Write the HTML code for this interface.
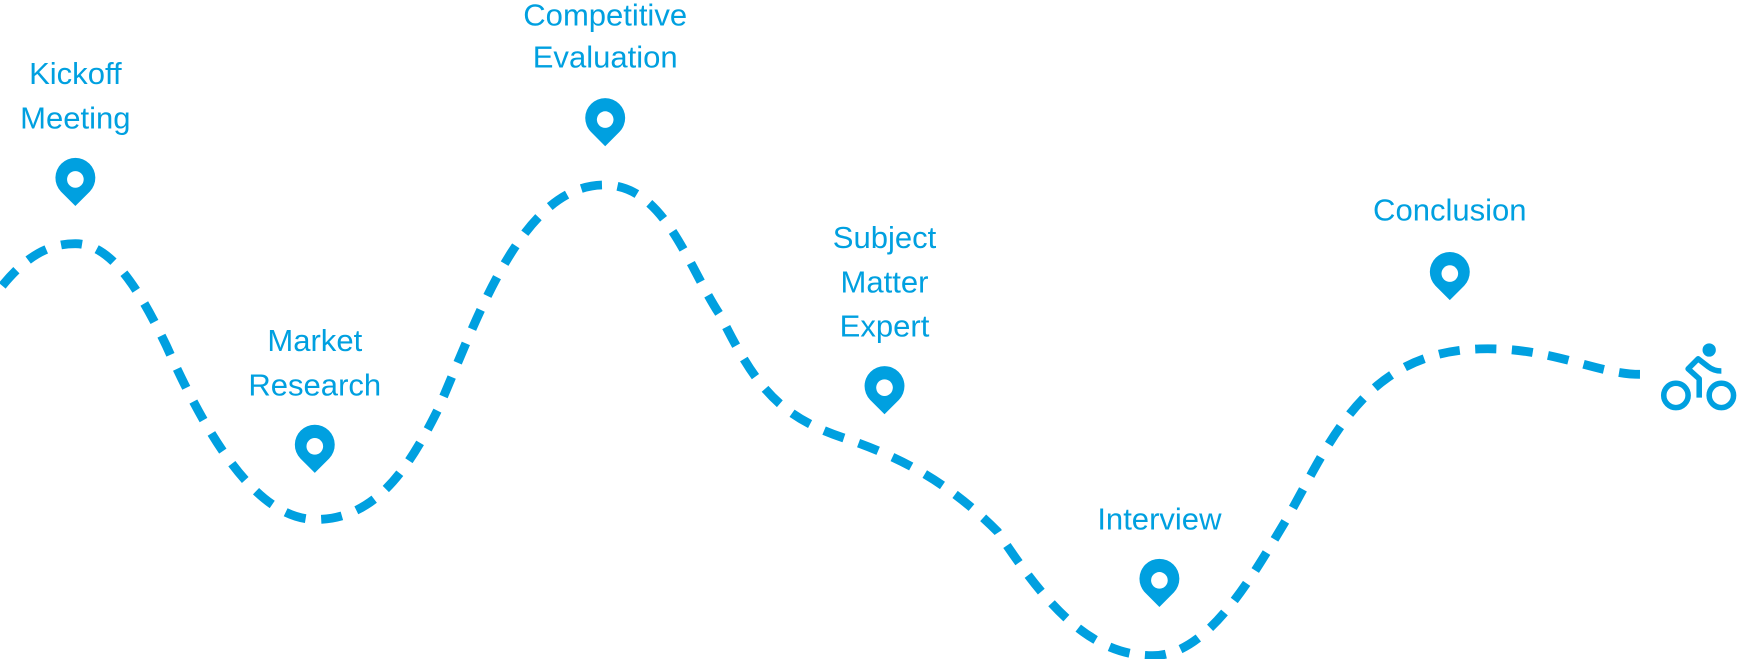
<!DOCTYPE html>
<html><head><meta charset="utf-8"><style>
html,body{margin:0;padding:0;background:#fff;width:1738px;height:659px;overflow:hidden}
svg{display:block}
text{font-family:"Liberation Sans",sans-serif;font-size:28px;fill:#00a0e0;text-anchor:middle}
</style></head><body>
<svg width="1738" height="659" viewBox="0 0 1568 595" preserveAspectRatio="none">
<defs>
<g id="pin">
<path d="M0,23 L-13,10 A18,18 0 1 1 13,10 Z" fill="#00a0e0"/>
<circle cx="0" cy="-1" r="7.5" fill="#fff"/>
</g>
</defs>
<path d="M2,258 C25,230 45,220 68,220 C100,220 125,260 150,312 C185,390 230,469 285,469 C340,469 370,420 395,370 C430,290 470,167 545,167 C600,167 620,240 650,285 C680,345 700,375 760,395 C820,415 860,440 900,480 C940,540 980,592 1040,592 C1090,592 1130,520 1160,470 C1200,400 1230,318 1335,315 C1400,313 1440,338 1480,338"
 fill="none" stroke="#00a0e0" stroke-width="8" stroke-dasharray="19,14"/>
<use href="#pin" x="68" y="163"/>
<use href="#pin" x="284" y="404"/>
<use href="#pin" x="546" y="109"/>
<use href="#pin" x="798" y="351"/>
<use href="#pin" x="1046" y="525"/>
<use href="#pin" x="1308" y="248"/>
<text x="68" y="76">Kickoff</text><text x="68" y="116">Meeting</text>
<text x="284" y="317">Market</text><text x="284" y="357">Research</text>
<text x="546" y="23">Competitive</text>
<text x="546" y="61">Evaluation</text>
<text x="798" y="224">Subject</text><text x="798" y="264">Matter</text><text x="798" y="304">Expert</text>
<text x="1046" y="478">Interview</text>
<text x="1308" y="199">Conclusion</text>
<g fill="none" stroke="#00a0e0" stroke-width="5">
<circle cx="1512" cy="357" r="11"/>
<circle cx="1553" cy="357" r="11"/>
<path d="M1533,359 L1533,342 L1523,333 L1532,324 L1541,331 Q1546,335 1553,335" stroke-linejoin="round"/>
</g>
<circle cx="1542" cy="316" r="6" fill="#00a0e0"/>
</svg>
</body></html>
